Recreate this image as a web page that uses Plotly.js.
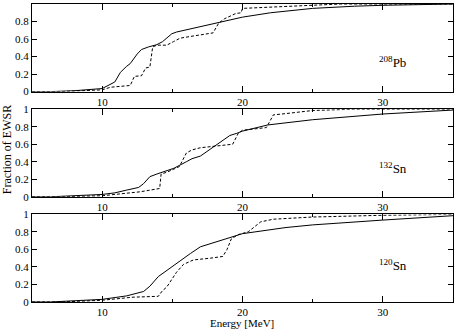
<!DOCTYPE html>
<html>
<head>
<meta charset="utf-8">
<script src="https://cdn.plot.ly/plotly-3.0.1.min.js"></script>
<style>
  body { margin: 0; background: #fff; }
  #graph { width: 455px; height: 329px; }
</style>
</head>
<body>
<div id="graph"></div>
<script>
// 208Pb
const pbSolidE = [5, 6.3, 8, 10, 10.9, 11.3, 11.75, 12, 12.5, 12.8, 13.3, 13.9, 14.3, 14.6, 14.96, 15.3, 17, 18.2, 19.1, 20, 22, 25, 28, 30, 35];
const pbSolid  = [0, 0, 0.01, 0.035, 0.11, 0.22, 0.29, 0.32, 0.43, 0.48, 0.51, 0.536, 0.57, 0.61, 0.66, 0.68, 0.74, 0.78, 0.82, 0.85, 0.9, 0.95, 0.975, 0.985, 1.0];
const pbDashE  = [5, 7, 10, 10.6, 12.0, 12.3, 12.8, 13.1, 13.4, 13.6, 13.9, 14.6, 15.08, 15.55, 16.3, 17.9, 18.3, 18.7, 19.5, 19.9, 20.0, 22, 25, 27, 35];
const pbDash   = [0, 0, 0.02, 0.05, 0.07, 0.175, 0.18, 0.27, 0.28, 0.51, 0.53, 0.53, 0.57, 0.61, 0.63, 0.67, 0.78, 0.83, 0.89, 0.9, 0.95, 0.965, 0.985, 1.0, 1.0];

// 132Sn
const sn132SolidE = [5, 6.3, 10, 10.9, 11.75, 12.6, 12.95, 13.4, 13.9, 15.1, 16, 16.4, 17, 17.9, 18.5, 19.1, 19.6, 20, 21.8, 25, 30, 35];
const sn132Solid  = [0, 0, 0.027, 0.045, 0.077, 0.107, 0.15, 0.23, 0.26, 0.325, 0.40, 0.435, 0.465, 0.57, 0.63, 0.7, 0.725, 0.75, 0.82, 0.88, 0.945, 0.99];
const sn132DashE  = [5, 7, 10, 10.9, 12.7, 14.1, 14.2, 14.6, 15.5, 16.0, 16.4, 17, 19.3, 19.7, 20, 21.7, 22.2, 23.1, 25, 27.9, 35];
const sn132Dash   = [0, 0, 0.012, 0.027, 0.057, 0.095, 0.26, 0.28, 0.345, 0.50, 0.535, 0.56, 0.6, 0.725, 0.76, 0.79, 0.935, 0.95, 0.985, 1.0, 1.0];

// 120Sn
const sn120SolidE = [5, 6.3, 10, 11.75, 12.95, 13.4, 14, 15.1, 16.3, 17, 18.2, 19.1, 20, 23.1, 25, 30, 35];
const sn120Solid  = [0, 0, 0.03, 0.07, 0.12, 0.18, 0.29, 0.42, 0.555, 0.63, 0.69, 0.74, 0.78, 0.85, 0.88, 0.935, 0.985];
const sn120DashE  = [5, 7, 10, 12.2, 14, 14.3, 14.6, 15.3, 15.8, 16.5, 17.7, 18.6, 18.9, 19.2, 19.7, 20.4, 21.3, 22.2, 25, 30, 35];
const sn120Dash   = [0, 0, 0.02, 0.055, 0.065, 0.13, 0.17, 0.34, 0.43, 0.48, 0.5, 0.52, 0.6, 0.72, 0.77, 0.80, 0.915, 0.945, 0.97, 0.99, 1.0];

const panelLabels = ['<sup>208</sup>Pb', '<sup>132</sup>Sn', '<sup>120</sup>Sn'];
const labelY = [0.34, 0.33, 0.42];

const serif = '"Times New Roman", Times, "Liberation Serif", serif';

function line(x, y, ax, dashed) {
    return {
        x: x, y: y,
        xaxis: 'x' + ax, yaxis: 'y' + ax,
        mode: 'lines', type: 'scatter',
        line: { color: '#000', width: 1, dash: dashed ? '3px,2px' : 'solid' },
        hoverinfo: 'skip', showlegend: false
    };
}

const traces = [
    line(pbSolidE, pbSolid, '', false),
    line(pbDashE, pbDash, '', true),
    line(sn132SolidE, sn132Solid, '2', false),
    line(sn132DashE, sn132Dash, '2', true),
    line(sn120SolidE, sn120Solid, '3', false),
    line(sn120DashE, sn120Dash, '3', true)
];

function xax(anchor) {
    return {
        anchor: anchor, range: [5, 35], dtick: 10, tick0: 0,
        ticks: 'inside', ticklen: 6, tickcolor: '#000', mirror: 'ticks',
        showline: true, linecolor: '#000', linewidth: 1,
        showgrid: false, zeroline: false,
        minor: { dtick: 5, tick0: 0, ticks: 'inside', ticklen: 3, tickcolor: '#000' },
        tickfont: { family: serif, size: 11, color: '#000' }
    };
}
function yax(domain, anchor) {
    return {
        domain: domain, anchor: anchor, range: [0, 1], dtick: 0.2,
        ticks: 'inside', ticklen: 5, tickcolor: '#000', mirror: 'ticks',
        showline: true, linecolor: '#000', linewidth: 1,
        showgrid: false, zeroline: false,
        tickfont: { family: serif, size: 11, color: '#000' }
    };
}

const annotations = panelLabels.map((t, i) => ({
    text: t, xref: i === 0 ? 'x' : 'x' + (i + 1), yref: i === 0 ? 'y' : 'y' + (i + 1),
    x: 30.7, y: labelY[i], showarrow: false,
    font: { family: serif, size: 13, color: '#000' }
}));
annotations.push({
    text: 'Fraction of EWSR', xref: 'paper', yref: 'paper', x: -0.059, y: 0.51,
    xanchor: 'center', yanchor: 'middle',
    textangle: -90, showarrow: false, font: { family: serif, size: 12, color: '#000' }
});
annotations.push({
    text: 'Energy [MeV]', xref: 'paper', yref: 'paper', x: 0.499, y: -0.069,
    xanchor: 'center', yanchor: 'middle',
    showarrow: false, font: { family: serif, size: 11, color: '#000' }
});

const layout = {
    width: 455, height: 329,
    margin: { l: 32, r: 2, t: 4, b: 27 },
    paper_bgcolor: '#fff', plot_bgcolor: '#fff',
    font: { family: serif, color: '#000' },
    xaxis: xax('y'), xaxis2: xax('y2'), xaxis3: xax('y3'),
    yaxis: yax([0.706, 1.0], 'x'),
    yaxis2: yax([0.353, 0.647], 'x2'),
    yaxis3: yax([0, 0.294], 'x3'),
    annotations: annotations
};

Plotly.newPlot('graph', traces, layout, { staticPlot: true });
</script>
</body>
</html>
